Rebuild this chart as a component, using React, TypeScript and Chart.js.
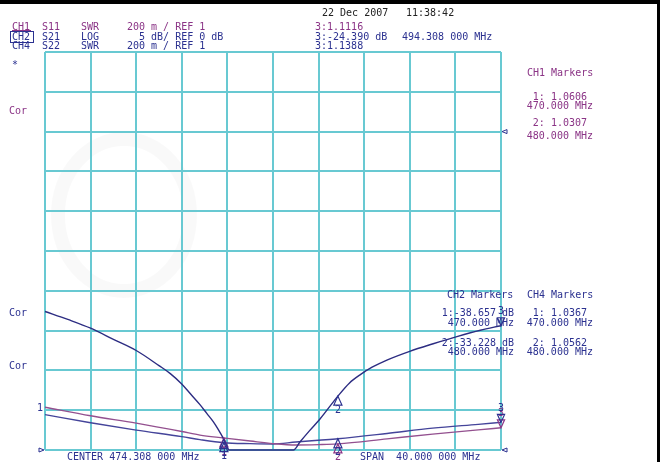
/**
 * Network analyzer screenshot — S11 / S21 / S22 traces over a 10x10 graticule.
 */

import { useEffect, useRef } from 'react';
import { Chart, registerables } from 'chart.js';

Chart.register(...registerables);

const FREQ_START = 454.308;
const FREQ_STOP = 494.308;

// graticule positions (MHz and SWR units)
const GRID_FREQ = [454.308, 458.308, 462.308, 466.308, 470.308, 474.308, 478.308, 482.308, 486.308, 490.308, 494.308];
const GRID_SWR = [1, 1.2, 1.4, 1.6, 1.8, 2, 2.2, 2.4, 2.6, 2.8, 3];

// CH1 S11 (SWR) and CH4 S22 (SWR)
const SWR_FREQ = [454.308, 458.308, 462.308, 466.308, 467.9, 470, 472.308, 474.308, 476.308, 478.308, 480, 484.308, 488.308, 492.308, 494.308];
const CH1_SWR = [1.215, 1.172, 1.135, 1.093, 1.075, 1.0606, 1.045, 1.032, 1.025, 1.027, 1.0307, 1.056, 1.08, 1.101, 1.1116];
const CH4_SWR = [1.178, 1.137, 1.1, 1.067, 1.052, 1.0367, 1.032, 1.03, 1.04, 1.049, 1.0562, 1.083, 1.11, 1.129, 1.1388];

// CH2 S21 (dB) — below -40 dB the trace sits on the bottom line
const CH2_FREQ = [454.308, 456.308, 458.308, 460.308, 462.308, 464.308, 465.3, 466.3, 467.1, 467.9, 468.5, 469.05, 469.5, 470, 470.45, 476.1, 476.67, 477.5, 478.43, 480, 481, 482, 483, 484.3, 486.3, 488.36, 490.44, 492.49, 494.308];
const CH2_DB = [-22.6, -23.6, -24.7, -26.1, -27.5, -29.4, -30.4, -31.7, -33.0, -34.3, -35.4, -36.4, -37.4, -38.657, -40, -40, -39.0, -37.6, -36.1, -33.228, -31.6, -30.5, -29.6, -28.7, -27.6, -26.65, -25.75, -24.95, -24.39];

// marker readouts
const MARKER_FREQ = [470, 480, 494.308];
const CH1_MARKERS = [1.0606, 1.0307, 1.1116];
const CH2_MARKERS = [-38.657, -33.228, -24.39];
const CH4_MARKERS = [1.0367, 1.0562, 1.1388];

const PURPLE = '#8b3486';
const NAVY = '#2b3190';
const GRID = '#68c9d2';
const FONT = '10px "DejaVu Sans Mono", monospace';

function triangle(ctx: CanvasRenderingContext2D, x: number, y: number, dir: 'up' | 'down' | 'left' | 'right', s: number): void {
  ctx.beginPath();
  if (dir === 'up') {
    ctx.moveTo(x, y); ctx.lineTo(x - s * 0.45, y + s); ctx.lineTo(x + s * 0.45, y + s);
  } else if (dir === 'down') {
    ctx.moveTo(x, y); ctx.lineTo(x - s * 0.45, y - s); ctx.lineTo(x + s * 0.45, y - s);
  } else if (dir === 'right') {
    ctx.moveTo(x, y); ctx.lineTo(x - s, y - s * 0.4); ctx.lineTo(x - s, y + s * 0.4);
  } else {
    ctx.moveTo(x, y); ctx.lineTo(x + s, y - s * 0.4); ctx.lineTo(x + s, y + s * 0.4);
  }
  ctx.closePath();
  ctx.stroke();
}

function text(ctx: CanvasRenderingContext2D, s: string, x: number, y: number, color: string, align: CanvasTextAlign = 'left'): void {
  ctx.fillStyle = color;
  ctx.textAlign = align;
  ctx.fillText(s, x, y);
}

// faint scanned watermark behind the graticule
const watermarkPlugin = {
  id: 'watermark',
  beforeDraw(chart: Chart): void {
    const { ctx } = chart;
    ctx.save();
    ctx.strokeStyle = 'rgba(0,0,0,0.025)';
    ctx.lineWidth = 14;
    ctx.beginPath();
    ctx.ellipse(124, 215, 66, 76, 0, 0, Math.PI * 2);
    ctx.stroke();
    ctx.restore();
  },
};

const screenPlugin = {
  id: 'analyzerScreen',
  afterDraw(chart: Chart): void {
    const { ctx, scales, chartArea } = chart;
    const x = scales['x'];
    const ySwr = scales['y'];
    const yDb = scales['y2'];
    ctx.save();
    ctx.font = FONT;
    ctx.textBaseline = 'middle';

    // markers
    ctx.lineWidth = 1.2;
    const drawMarkers = (vals: number[], scale: typeof ySwr, color: string) => {
      ctx.strokeStyle = color;
      vals.forEach((v, i) => {
        const px = x.getPixelForValue(MARKER_FREQ[i]);
        const py = scale.getPixelForValue(v);
        if (i < 2) {
          triangle(ctx, px, py, 'up', 9);
          text(ctx, String(i + 1), px, py + 14, color, 'center');
        } else {
          triangle(ctx, px, py, 'down', 8);
          text(ctx, String(i + 1), px, py - 14, color, 'center');
        }
      });
    };
    drawMarkers(CH1_MARKERS, ySwr, PURPLE);
    drawMarkers(CH4_MARKERS, ySwr, NAVY);
    drawMarkers(CH2_MARKERS, yDb, NAVY);

    // reference position arrows
    ctx.strokeStyle = NAVY;
    ctx.lineWidth = 1;
    triangle(ctx, chartArea.left - 1, ySwr.getPixelForValue(1), 'right', 5);
    triangle(ctx, chartArea.right + 1, ySwr.getPixelForValue(1), 'left', 5);
    triangle(ctx, chartArea.right + 1, yDb.getPixelForValue(0), 'left', 5);

    // header
    text(ctx, '22 Dec 2007', 322, 13, '#222');
    text(ctx, '11:38:42', 406, 13, '#222');
    text(ctx, 'CH1', 12, 27, PURPLE);
    text(ctx, 'S11', 42, 27, PURPLE);
    text(ctx, 'SWR', 81, 27, PURPLE);
    text(ctx, '200 m / REF 1', 127, 27, PURPLE);
    text(ctx, 'CH2', 12, 37, NAVY);
    text(ctx, 'S21', 42, 37, NAVY);
    text(ctx, 'LOG', 81, 37, NAVY);
    text(ctx, '  5 dB/ REF 0 dB', 127, 37, NAVY);
    text(ctx, 'CH4', 12, 46, NAVY);
    text(ctx, 'S22', 42, 46, NAVY);
    text(ctx, 'SWR', 81, 46, NAVY);
    text(ctx, '200 m / REF 1', 127, 46, NAVY);
    ctx.strokeStyle = NAVY;
    ctx.strokeRect(10.5, 31.5, 23, 11);
    ctx.strokeStyle = PURPLE;
    ctx.beginPath();
    ctx.moveTo(12, 30.5); ctx.lineTo(31, 30.5);
    ctx.stroke();

    text(ctx, '3:1.1116', 315, 27, PURPLE);
    text(ctx, '3:-24.390 dB', 315, 37, NAVY);
    text(ctx, '494.308 000 MHz', 402, 37, NAVY);
    text(ctx, '3:1.1388', 315, 46, NAVY);

    // left side annotations
    text(ctx, '*', 12, 65, NAVY);
    text(ctx, 'Cor', 9, 111, PURPLE);
    text(ctx, 'Cor', 9, 313, NAVY);
    text(ctx, 'Cor', 9, 366, NAVY);
    text(ctx, '1', 37, 408, NAVY);

    // marker tables
    text(ctx, 'CH1 Markers', 527, 73, PURPLE);
    text(ctx, '1: 1.0606', 587, 97, PURPLE, 'right');
    text(ctx, '470.000 MHz', 593, 106, PURPLE, 'right');
    text(ctx, '2: 1.0307', 587, 123, PURPLE, 'right');
    text(ctx, '480.000 MHz', 593, 136, PURPLE, 'right');

    text(ctx, 'CH2 Markers', 447, 295, NAVY);
    text(ctx, '1:-38.657 dB', 514, 313, NAVY, 'right');
    text(ctx, '470.000 MHz', 514, 323, NAVY, 'right');
    text(ctx, '2:-33.228 dB', 514, 343, NAVY, 'right');
    text(ctx, '480.000 MHz', 514, 352, NAVY, 'right');

    text(ctx, 'CH4 Markers', 527, 295, NAVY);
    text(ctx, '1: 1.0367', 587, 313, NAVY, 'right');
    text(ctx, '470.000 MHz', 593, 323, NAVY, 'right');
    text(ctx, '2: 1.0562', 587, 343, NAVY, 'right');
    text(ctx, '480.000 MHz', 593, 352, NAVY, 'right');

    // footer
    text(ctx, 'CENTER 474.308 000 MHz', 67, 457, NAVY);
    text(ctx, 'SPAN  40.000 000 MHz', 360, 457, NAVY);

    // scanned frame edges
    ctx.fillStyle = '#000';
    ctx.fillRect(0, 0, 660, 4);
    ctx.fillRect(657, 0, 3, 462);
    ctx.restore();
  },
};

function points(freq: number[], vals: number[]) {
  return freq.map((f, i) => ({ x: f, y: vals[i] }));
}

export default function App(): JSX.Element {
  const canvasRef = useRef<HTMLCanvasElement>(null);
  const chartRef = useRef<Chart | null>(null);

  useEffect(() => {
    if (!canvasRef.current) return;
    if (chartRef.current) chartRef.current.destroy();

    const gridOpts = { color: GRID, lineWidth: 2, drawTicks: false };
    const trace = { pointRadius: 0, borderWidth: 1.4, cubicInterpolationMode: 'monotone' as const, clip: 4, fill: false };

    chartRef.current = new Chart(canvasRef.current, {
      type: 'line',
      plugins: [watermarkPlugin, screenPlugin],
      data: {
        datasets: [
          { ...trace, label: 'CH2 S21', data: points(CH2_FREQ, CH2_DB), borderColor: '#2c2c82', yAxisID: 'y2' },
          { ...trace, label: 'CH1 S11', data: points(SWR_FREQ, CH1_SWR), borderColor: '#93508f', yAxisID: 'y' },
          { ...trace, label: 'CH4 S22', data: points(SWR_FREQ, CH4_SWR), borderColor: '#44449a', yAxisID: 'y' },
        ],
      },
      options: {
        responsive: true,
        maintainAspectRatio: false,
        animation: false,
        layout: { padding: { left: 45, right: 159, top: 52, bottom: 12 } },
        plugins: { legend: { display: false }, tooltip: { enabled: false } },
        scales: {
          x: {
            type: 'linear',
            min: FREQ_START,
            max: FREQ_STOP,
            afterBuildTicks: s => { s.ticks = GRID_FREQ.map(v => ({ value: v })); },
            afterFit: s => { s.height = 0; },
            ticks: { display: false },
            grid: gridOpts,
            border: { display: false },
          },
          y: {
            type: 'linear',
            min: 1,
            max: 3,
            afterBuildTicks: s => { s.ticks = GRID_SWR.map(v => ({ value: v })); },
            afterFit: s => { s.width = 0; },
            ticks: { display: false },
            grid: gridOpts,
            border: { display: false },
          },
          y2: { type: 'linear', min: -40, max: 10, display: false },
        },
      },
    });

    return () => { chartRef.current?.destroy(); };
  }, []);

  return (
    <div style={{ position: 'fixed', left: 0, top: 0, width: '660px', height: '462px', background: '#fff' }}>
      <canvas
        ref={canvasRef}
        role="img"
        aria-label="Network analyzer display with S11, S21 and S22 traces from 454.308 to 494.308 MHz"
      />
    </div>
  );
}
